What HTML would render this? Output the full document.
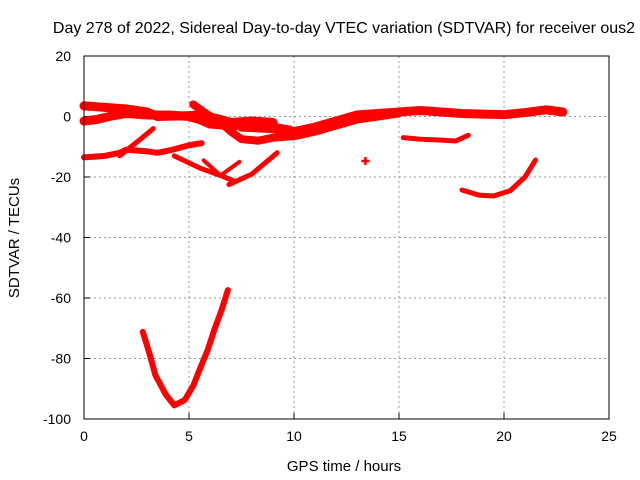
<!DOCTYPE html>
<html><head><meta charset="utf-8"><style>
body{margin:0;background:#fff}
svg{display:block;font-family:"Liberation Sans",sans-serif}
</style></head><body>
<svg id="c" width="640" height="480">
<text x="344" y="33" font-size="16" text-anchor="middle">Day 278 of 2022, Sidereal Day-to-day VTEC variation (SDTVAR) for receiver ous2</text>
<text x="344" y="471" font-size="15" text-anchor="middle">GPS time / hours</text>
<text transform="translate(19,238) rotate(-90)" font-size="15" text-anchor="middle">SDTVAR / TECUs</text>
<g id="grid"></g><g id="marks"></g>
<rect x="84" y="56" width="525" height="363" fill="none" stroke="#000"/>
</svg>
<script>
const xTicks=[0,5,10,15,20,25];
const yTicks=[20,0,-20,-40,-60,-80,-100];
const topBandA=[[0,3.5],[1,3],[2,2.5],[3,1.5],[3.5,0],[5,0.3],[5.6,0.5],[6.5,-1],[7,-2],[8,-1.5],[9,-2]];
const topBandB=[[0,-1.5],[0.6,-1],[1.2,0],[2,1],[3,0.5],[4,0.5],[5,0],[5.5,-1],[6,-2.5],[7,-3],[8.5,-3],[9.8,-4.5]];
const crossTrack=[[5.2,4],[5.8,1],[6.5,-2],[7,-5],[7.5,-7.5],[8.3,-8],[9,-7],[10,-6.5],[11,-5],[12,-3],[13,-1],[14,0],[15,1]];
const upperMid=[[7.5,-3.5],[9,-4],[10,-5],[11,-3.5],[12,-1.5],[13,0.5],[14,1],[15,1.5],[16,2],[17,1.5],[18,1],[19,0.8],[20,0.6],[21,1.3],[22,2.2],[22.8,1.5]];
const lowBand=[[0,-13.5],[1,-13],[1.7,-12],[2,-11],[3,-11.5],[3.5,-12],[4.2,-11],[5,-9.5],[5.6,-8.8]];
const riseTrack=[[1.7,-13],[2.6,-8],[3.3,-4]];
const vArm1=[[4.3,-13],[5.5,-17],[6.5,-19.5],[7.2,-21.5]];
const vArm2=[[6.9,-22.5],[8,-19],[9.2,-12]];
const vArm3=[[5.7,-14.5],[6.5,-19.5],[7.4,-15]];
const shortSeg=[[15.2,-7],[16,-7.5],[17,-7.8],[17.7,-8.1],[18.3,-6.2]];
const dot=[[13.4,-14.7]];
const rightCurve=[[18,-24.3],[18.8,-26],[19.5,-26.3],[20.3,-24.5],[21,-20],[21.5,-14.4]];
const dip=[[2.8,-71.2],[3.1,-78],[3.4,-85.5],[3.9,-92],[4.3,-95.5],[4.8,-93.7],[5.2,-89],[5.5,-83.8],[5.9,-77],[6.2,-70.6],[6.55,-64],[6.85,-57.4]];
const X=h=>84+h*21, Y=v=>56+(20-v)*3.025;
const NS="http://www.w3.org/2000/svg";
const grid=document.getElementById('grid'), marks=document.getElementById('marks'), svg=document.getElementById('c');
function mk(t,a,p){const e=document.createElementNS(NS,t);for(const k in a)e.setAttribute(k,a[k]);p.appendChild(e);return e;}
xTicks.forEach(t=>{
 const x=X(t);
 if(t>0&&t<25){const l=mk('line',{x1:x,y1:56,x2:x,y2:419,stroke:'#999','stroke-dasharray':'2,3'},grid);
 
 }
 const k=mk('line',{x1:x,y1:419,x2:x,y2:413,stroke:'#000'},grid);
 
 
 const tx=mk('text',{x:x,y:441,'font-size':14,'text-anchor':'middle'},svg);tx.textContent=t;
 
 
});
yTicks.forEach(t=>{
 const y=Y(t);
 if(t<20&&t>-100){const l=mk('line',{x1:84,y1:y,x2:609,y2:y,stroke:'#999','stroke-dasharray':'2,3'},grid);
 
 }
 const k=mk('line',{x1:84,y1:y,x2:90,y2:y,stroke:'#000'},grid);
 
 
 const tx=mk('text',{x:71,y:y+5,'font-size':14,'text-anchor':'end'},svg);tx.textContent=t;
 
 
});
function track(d,w,name){
 const p=mk('polyline',{points:d.map(q=>X(q[0])+','+Y(q[1])).join(' '),fill:'none',stroke:'#f00','stroke-width':w,'stroke-linejoin':'round','stroke-linecap':'round'},marks);
 
 
}
track(topBandA,9,'track-top-a');track(topBandB,9,'track-top-b');track(crossTrack,8,'track-cross');
track(upperMid,9,'track-upper-mid');track(lowBand,6,'track-low-band');track(riseTrack,5,'track-rise');
track(vArm1,5,'track-v-arm1');track(vArm2,5,'track-v-arm2');track(vArm3,4,'track-v-arm3');
track(shortSeg,5,'track-short');track(rightCurve,5,'track-right-curve');track(dip,6,'track-dip');
dot.forEach(q=>{const p=mk('path',{d:`M${X(q[0])-4},${Y(q[1])}h8M${X(q[0])},${Y(q[1])-4}v8`,stroke:'#f00','stroke-width':2.5},marks);
 
 });
</script>
</body></html>
